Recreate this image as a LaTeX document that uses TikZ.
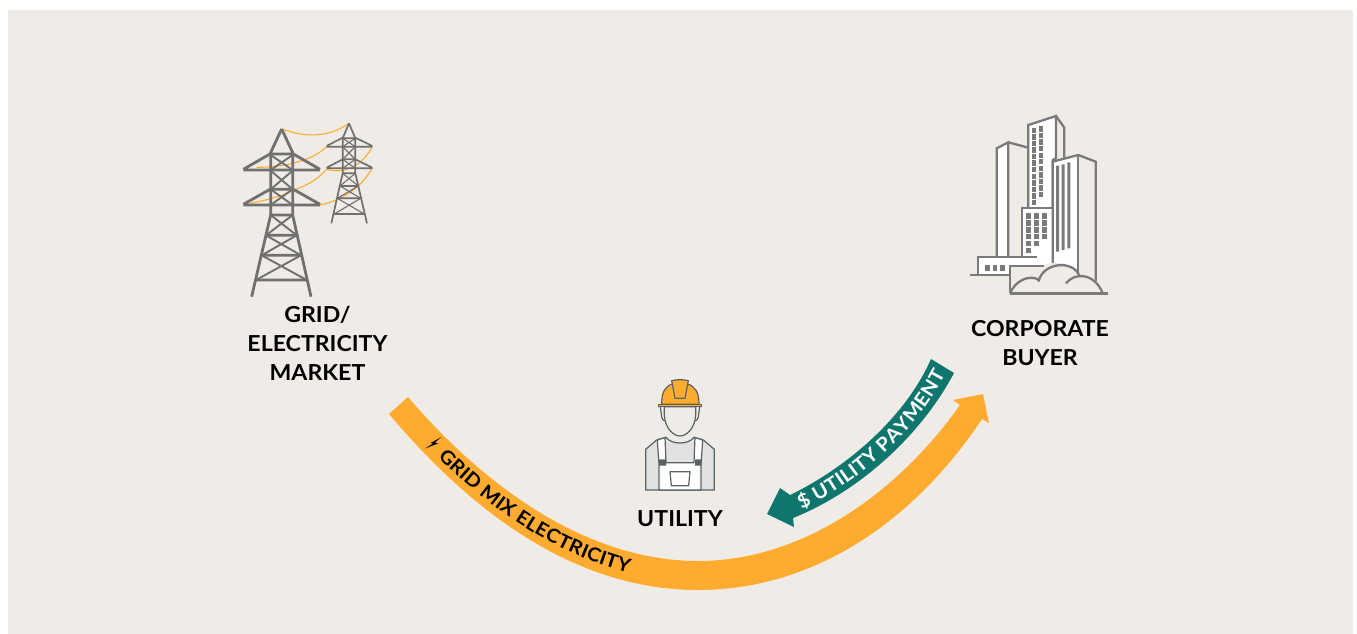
\documentclass[tikz,border=0pt]{standalone}
\usepackage{fontspec}
\setmainfont[FakeStretch=1.05]{Lato}
\newfontfamily\arcfont[FakeStretch=1.075]{Lato}
\usetikzlibrary{decorations.text}
\definecolor{bgc}{HTML}{EFECE7}
\definecolor{org}{HTML}{FEAB2F}
\definecolor{tealc}{HTML}{0F766E}
\definecolor{towerc}{HTML}{707070}
\definecolor{bldc}{HTML}{7A7A7A}
\definecolor{wrk}{HTML}{5A6264}
\definecolor{shirt}{HTML}{E2E2E2}
\newcommand{\arcblack}{\arcfont\fontsize{19}{19}\selectfont\bfseries\color{black}}
\newcommand{\arcwhite}{\arcfont\fontsize{19}{19}\selectfont\bfseries\color{white}}
\tikzset{
 lab/.style={font=\fontsize{22}{29}\selectfont\bfseries,align=center,text=black,inner sep=0pt},
 tw/.style={draw=towerc,line width=1.7pt},
 twa/.style={draw=towerc,line width=2.8pt},
 wire/.style={draw=org,line width=1.1pt},
 bl/.style={draw=bldc,line width=2.3pt,line join=miter},
 win/.style={fill=bldc,draw=none},
 wk/.style={draw=wrk,line width=1.2pt,line join=round},
}
\begin{document}
\begin{tikzpicture}[x=1pt,y=-1pt]
\useasboundingbox (0,0) rectangle (1357,634);
\fill[white] (0,0) rectangle (1357,634);
\fill[bgc] (8,10) rectangle (1353,634);
% big arcs
\fill[org] (389,414) .. controls (455,492) and (560,590) .. (698,590)
 .. controls (815,590) and (915,520) .. (982,419) -- (989,423) -- (983,394) -- (953,400) -- (960,405)
 .. controls (900,490) and (805,561) .. (698,561)
 .. controls (575,561) and (470,470) .. (408,397) -- cycle;
\fill[tealc] (931,359) -- (954,373) .. controls (920,437) and (858,492) .. (793,518) -- (794,527) -- (767,514) -- (780,488) -- (790,495)
 .. controls (846,468) and (905,418) .. (931,359) -- cycle;
\path[decorate,decoration={text along path,text align={left indent=65pt},raise=-6.5pt,
 text={|\arcblack|GRID MIX ELECTRICITY}}]
 (398,405) .. controls (462,481) and (567,575) .. (698,575);
\path[decorate,decoration={text along path,text align={left indent=8pt},raise=-6.5pt,
 text={|\arcwhite|{\$} UTILITY PAYMENT}}]
 (791.5,506.5) .. controls (852,480) and (912,428) .. (942,366);
\fill[black] (441.6,437) -- (430.5,443) -- (433,443.5) -- (425,448.5) -- (438,443.5) -- (435,442.3) -- cycle;
% labels
\node[lab] (grid) at (317.5,343.5) {GRID/\\ELECTRICITY\\MARKET};
\node[lab] (corp) at (1040,343) {CORPORATE\\BUYER};
\node[lab] (util) at (680,519) {UTILITY};
% Towers
\begin{scope}[shift={(230,110)},x=.3333pt,y=-.3333pt]
 \draw[wire] (160,58) .. controls (230,85) and (300,80) .. (357,40);
 \draw[wire] (80,172) .. controls (170,172) and (250,150) .. (290,110);
 \draw[wire] (190,240) .. controls (240,225) and (270,200) .. (290,178) .. controls (330,190) and (390,180) .. (427,110);
 \draw[wire] (60,280) .. controls (100,272) and (150,262) .. (190,240);
 \draw[wire] (270,285) .. controls (340,270) and (390,235) .. (427,175);
 % big
 \draw[twa] (40,180)--(270,180) (40,285)--(270,285) (120,132)--(190,132) (120,238)--(190,238)
  (40,178)--(120,132) (270,178)--(190,132) (40,283)--(120,238) (270,283)--(190,238)
  (155,57)--(120,132) (155,57)--(190,132) (122,132)--(122,315) (188,132)--(188,315)
  (122,315)--(188,315) (122,315)--(65,560) (188,315)--(243,560)
  (108,376)--(200,376) (95,436)--(213,436) (78,510)--(230,510);
 \draw[tw,line width=1.9pt] (122,135)--(188,180) (188,135)--(122,180) (122,182)--(188,238) (188,182)--(122,238)
  (122,238)--(188,285) (188,238)--(122,285) (122,315)--(200,376) (188,315)--(108,376)
  (108,376)--(213,436) (200,376)--(95,436) (95,436)--(230,510) (213,436)--(78,510);
 % small
 \draw[tw] (290,110)--(427,110) (290,175)--(427,175) (338,85)--(376,85) (338,148)--(376,148)
  (290,108)--(338,83) (427,108)--(376,83) (290,173)--(338,148) (427,173)--(376,148)
  (357,40)--(338,85) (357,40)--(376,85) (338,85)--(338,190) (376,85)--(376,190)
  (338,190)--(376,190) (338,190)--(304,340) (376,190)--(411,340)
  (330,228)--(385,228) (322,265)--(392,265) (313,312)--(403,312);
 \draw[tw,line width=1.1pt] (338,85)--(376,110) (376,85)--(338,110) (338,110)--(376,148) (376,110)--(338,148)
  (338,148)--(376,175) (376,148)--(338,175) (338,190)--(385,228) (376,190)--(330,228)
  (330,228)--(392,265) (385,228)--(322,265) (322,265)--(403,312) (392,265)--(313,312);
\end{scope}
% Buildings
\begin{scope}[shift={(960,105)},x=.3333pt,y=-.3333pt]
 \filldraw[bl,fill=white] (110,455)--(110,130)--(145,112)--(145,455);
 \draw[bl] (145,112)--(205,128);
 \filldraw[bl,fill=white] (205,310)--(205,60)--(288,33)--(288,160)--(278,165)--(278,310)--cycle;
 \draw[bl] (288,33)--(313,68)--(313,158);
 \foreach \i in {0,...,11}{\fill[win] (216,{68+\i*19.7}) rectangle (228,{84+\i*19.7});}
 \foreach \i in {0,...,10}{\fill[win] (237,{64+\i*19.7}) rectangle (249,{80+\i*19.7});}
 \fill[white] (185,310) rectangle (275,480);
 \draw[bl] (185,455)--(185,310)--(278,310);
 \foreach \x/\k in {198/5,222/4,246/3}{\foreach \i in {0,...,\k}{\fill[win] (\x,{325+\i*20.8}) rectangle (\x+15,{341+\i*20.8});}}
 \fill[white] (278,170)--(355,150)--(355,530)--(278,530)--cycle;
 \draw[bl] (278,482)--(278,170)--(355,150)--(407,170)--(407,528);
 \draw[bl] (355,150)--(355,512);
 \fill[win] (288,182) rectangle (297,440) (305,178) rectangle (314,435) (322,172) rectangle (331,430);
 \fill[white] (55,457) rectangle (185,510);
 \draw[bl] (30,510)--(150,510) (55,510)--(55,457)--(232,457);
 \foreach \x in {76,99,121}{\fill[win] (\x,480) rectangle (\x+13,497);}
 % foreground with clouds
 \fill[bgc] (150,565)--(150,482)--(245,482) .. controls (262,470) and (340,465) .. (358,512) .. controls (385,500) and (410,520) .. (428,565) -- cycle;
 \draw[bl] (150,565)--(150,482)--(252,482);
 \draw[bl,line width=2.8pt] (150,566)--(445,566);
 \draw[bl] (150,565) .. controls (165,530) and (205,505) .. (240,526);
 \draw[bl] (235,530) .. controls (250,470) and (340,465) .. (358,512);
 \draw[bl] (318,535) .. controls (345,500) and (405,505) .. (428,565);
\end{scope}
% Worker
\begin{scope}[shift={(630,370)},x=.3333pt,y=-.3333pt]
 \filldraw[wk,fill=shirt] (47,360)--(47,238)--(80,210)--(108,202) .. controls (125,225) and (175,225) .. (192,202) --(220,210)--(253,238)--(253,360)--cycle;
 \filldraw[wk,fill=white] (87,360)--(87,285)--(82,210)--(105,203)--(108,278)--(192,278)--(195,203)--(218,210)--(213,285)--(213,360)--cycle;
 \fill[wrk] (87,268) rectangle (108,287) (195,268) rectangle (214,287);
 \draw[wk] (120,305)--(180,305)--(176,347)--(124,347)--cycle;
 \filldraw[wk,fill=bgc] (90,105)--(95,140) .. controls (97,150) and (102,153) .. (108,153) -- (192,153) .. controls (198,153) and (203,150) .. (205,140)--(210,105);
 \filldraw[wk,fill=bgc] (103,110)--(103,135) .. controls (105,175) and (130,198) .. (150,198) .. controls (170,198) and (195,175) .. (197,135) -- (197,110) -- cycle;
 \filldraw[wk,fill=org] (95,103) .. controls (95,65) and (105,50) .. (127,42) -- (125,32) .. controls (140,28) and (160,28) .. (175,32) -- (173,42) .. controls (195,50) and (207,65) .. (207,103) -- cycle;
 \draw[wk] (127,42)--(135,85)--(165,85)--(173,42);
 \filldraw[wk,fill=org] (86,104)--(214,104)--(214,110)--(86,110)--cycle;
\end{scope}
\end{tikzpicture}
\end{document}
